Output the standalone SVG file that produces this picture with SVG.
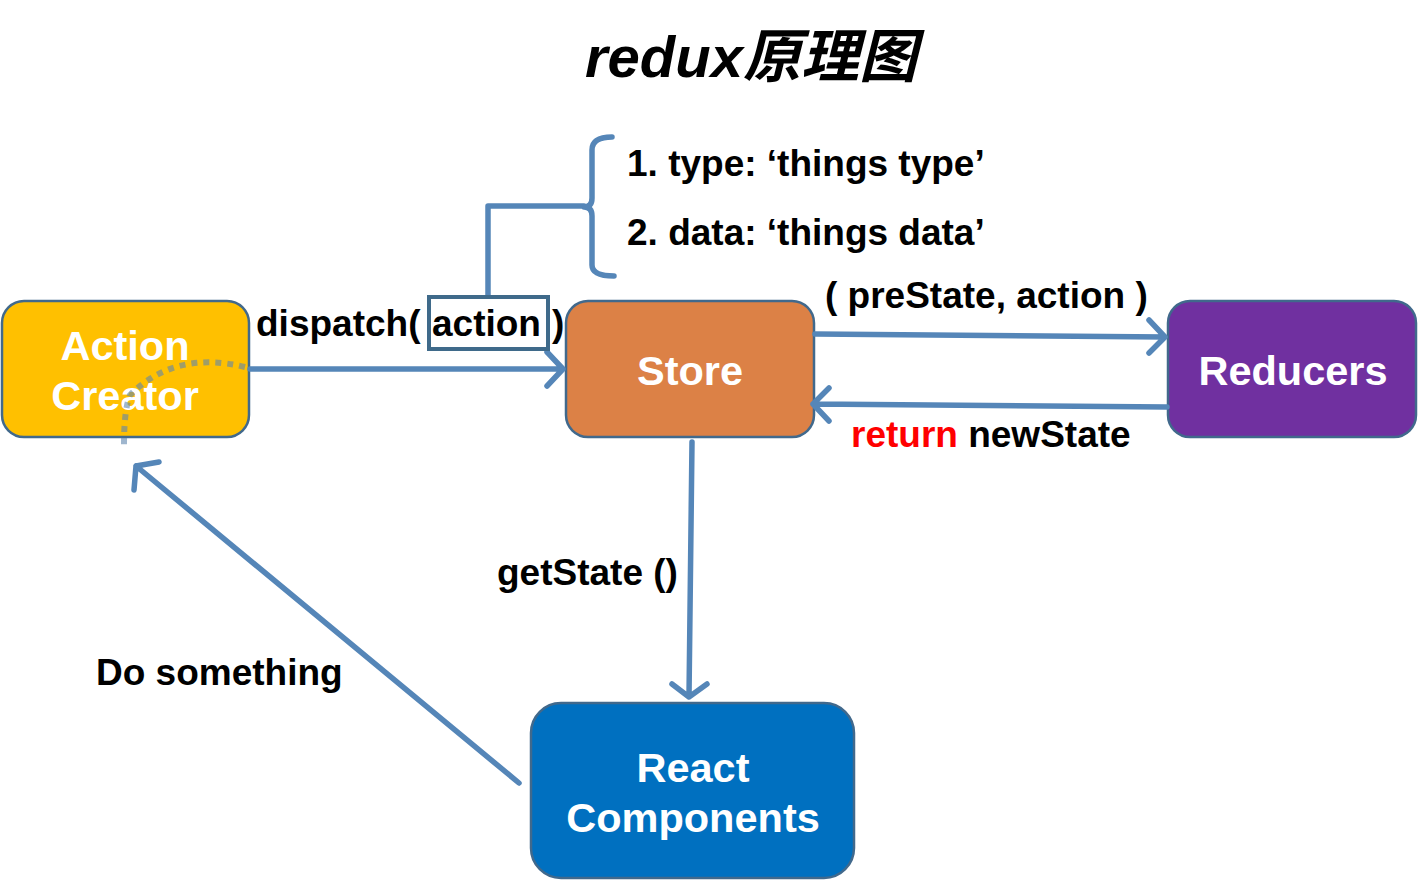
<svg xmlns="http://www.w3.org/2000/svg" width="1418" height="880" viewBox="0 0 1418 880">
<style>
.lbl{font-family:"Liberation Sans",Arial,sans-serif;font-weight:bold;font-size:37px;fill:#000}
.nt{font-family:"Liberation Sans",Arial,sans-serif;font-weight:bold;font-size:41.5px;fill:#fff;text-anchor:middle}
.node{stroke:#41698C;stroke-width:2.5}
.c{fill:none;stroke:#5586B8;stroke-width:5.5;stroke-linecap:round;stroke-linejoin:round}
</style>
<rect width="1418" height="880" fill="#fff"/>
<text x="751" y="77" text-anchor="middle" style="font-family:'Liberation Sans','Noto Sans CJK SC',sans-serif;font-weight:bold;font-style:italic;font-size:58px">redux原理图</text>

<g id="action-creator">
<rect class="node" x="2" y="301" width="247" height="136" rx="22" fill="#FFC000"/>
<text class="nt" x="125" y="360">Action</text>
<text class="nt" x="125" y="410">Creator</text>
</g>
<g id="store">
<rect class="node" x="566" y="301" width="248" height="136" rx="22" fill="#DC8146"/>
<text class="nt" x="690" y="385">Store</text>
</g>
<g id="reducers">
<rect class="node" x="1168" y="301" width="248" height="136" rx="22" fill="#7030A0"/>
<text class="nt" x="1293" y="385">Reducers</text>
</g>
<g id="react-components">
<rect class="node" x="531" y="703" width="323" height="175" rx="30" fill="#0070C0"/>
<text class="nt" x="693" y="782">React</text>
<text class="nt" x="693" y="832">Components</text>
</g>

<g id="connectors">
<path class="c" d="M250 369 H563 M547 352 L563 369 L547 386"/>
<path class="c" d="M815 334 L1165 337 M1149 320 L1165 337 L1149 353"/>
<path class="c" d="M1167 407 L813 404 M829 388 L813 404 L829 421"/>
<path class="c" d="M692 442 L689 697 M672 684 L689 697 L707 684"/>
<path class="c" d="M519 783 L136 466 M159 462 L136 466 L134 490"/>
<path class="c" d="M488 296 V206 H584 M612 137 Q592 137 592 150 V198 Q592 207 584 207 Q592 207 592 216 V265 Q592 276 614 276" stroke-width="4.5"/>
<path d="M245 367 Q175 350 130 395 Q124 410 124 445" fill="none" stroke="#5F86AD" stroke-opacity="0.6" stroke-width="6" stroke-dasharray="6 6"/>
</g>

<rect x="429" y="297" width="119" height="52" fill="none" stroke="#3F6A8A" stroke-width="4"/>
<text class="lbl" x="256" y="336">dispatch(</text>
<text class="lbl" x="432" y="336">action</text>
<text class="lbl" x="552" y="336">)</text>
<text class="lbl" x="825" y="308">( preState, action )</text>
<text class="lbl" x="851" y="447"><tspan fill="#FF0000">return</tspan> newState</text>
<text class="lbl" x="627" y="176">1. type: ‘things type’</text>
<text class="lbl" x="627" y="245">2. data: ‘things data’</text>
<text class="lbl" x="497" y="585">getState ()</text>
<text class="lbl" x="96" y="685">Do something</text>
</svg>
